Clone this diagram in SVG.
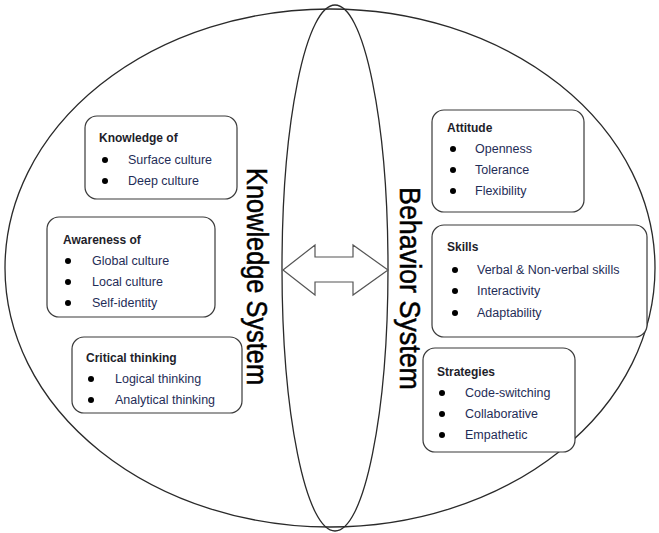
<svg xmlns="http://www.w3.org/2000/svg" width="659" height="533" viewBox="0 0 659 533">
<style>
.ell{fill:none;stroke:#2a2a2a;stroke-width:1.3}
.box{fill:#fff;stroke:#3a3a3a;stroke-width:1.2}
.t{font-family:"Liberation Sans",Arial,sans-serif;font-size:12px;font-weight:bold;fill:#1e1e2a}
.i{font-family:"Liberation Sans",Arial,sans-serif;font-size:12.5px;fill:#1f2d57}
.b{fill:#000}
.sys{font-family:"Liberation Sans",Arial,sans-serif;font-size:29px;fill:#000;stroke:#000;stroke-width:0.5}
</style>
<rect width="659" height="533" fill="#fff"/>
<g id="outer"><ellipse class="ell" cx="330" cy="268" rx="325" ry="259"/></g>
<g id="inner"><ellipse class="ell" cx="335" cy="268" rx="53" ry="263"/></g>
<g id="connectors">
<polygon points="283,270 315,245 315,257 353,257 353,245 388,270 353,295 353,282 315,282 315,295" fill="#fff" stroke="#555" stroke-width="1.2"/>
</g>
<g id="knowledge-system"><text class="sys" transform="translate(247,168) rotate(90)" textLength="217" lengthAdjust="spacingAndGlyphs">Knowledge System</text></g>
<g id="behavior-system"><text class="sys" transform="translate(400,187) rotate(90)" textLength="203" lengthAdjust="spacingAndGlyphs">Behavior System</text></g>
<g id="knowledge-of">
<rect class="box" x="85" y="116" width="152" height="83" rx="12"/>
<text class="t" x="99" y="142">Knowledge of</text>
<circle class="b" cx="105" cy="160" r="3"/><text class="i" x="128" y="164">Surface culture</text>
<circle class="b" cx="105" cy="181" r="3"/><text class="i" x="128" y="185">Deep culture</text>
</g>
<g id="awareness-of">
<rect class="box" x="47" y="217" width="168" height="100" rx="12"/>
<text class="t" x="63" y="244">Awareness of</text>
<circle class="b" cx="68" cy="261" r="3"/><text class="i" x="92" y="265">Global culture</text>
<circle class="b" cx="68" cy="282" r="3"/><text class="i" x="92" y="286">Local culture</text>
<circle class="b" cx="68" cy="303" r="3"/><text class="i" x="92" y="307">Self-identity</text>
</g>
<g id="critical-thinking">
<rect class="box" x="72" y="337" width="170" height="76" rx="12"/>
<text class="t" x="86" y="362">Critical thinking</text>
<circle class="b" cx="91" cy="379" r="3"/><text class="i" x="115" y="383">Logical thinking</text>
<circle class="b" cx="91" cy="400" r="3"/><text class="i" x="115" y="404">Analytical thinking</text>
</g>
<g id="attitude">
<rect class="box" x="432" y="110" width="152" height="102" rx="12"/>
<text class="t" x="447" y="132">Attitude</text>
<circle class="b" cx="453" cy="149" r="3"/><text class="i" x="475" y="153">Openness</text>
<circle class="b" cx="453" cy="170" r="3"/><text class="i" x="475" y="174">Tolerance</text>
<circle class="b" cx="453" cy="191" r="3"/><text class="i" x="475" y="195">Flexibility</text>
</g>
<g id="skills">
<rect class="box" x="432" y="225" width="215" height="112" rx="12"/>
<text class="t" x="447" y="251">Skills</text>
<circle class="b" cx="455" cy="270" r="3"/><text class="i" x="477" y="274">Verbal &amp; Non-verbal skills</text>
<circle class="b" cx="455" cy="291" r="3"/><text class="i" x="477" y="295">Interactivity</text>
<circle class="b" cx="455" cy="313" r="3"/><text class="i" x="477" y="317">Adaptability</text>
</g>
<g id="strategies">
<rect class="box" x="423" y="348" width="152" height="104" rx="12"/>
<text class="t" x="437" y="376">Strategies</text>
<circle class="b" cx="442" cy="393" r="3"/><text class="i" x="465" y="397">Code-switching</text>
<circle class="b" cx="442" cy="414" r="3"/><text class="i" x="465" y="418">Collaborative</text>
<circle class="b" cx="442" cy="435" r="3"/><text class="i" x="465" y="439">Empathetic</text>
</g>
</svg>
